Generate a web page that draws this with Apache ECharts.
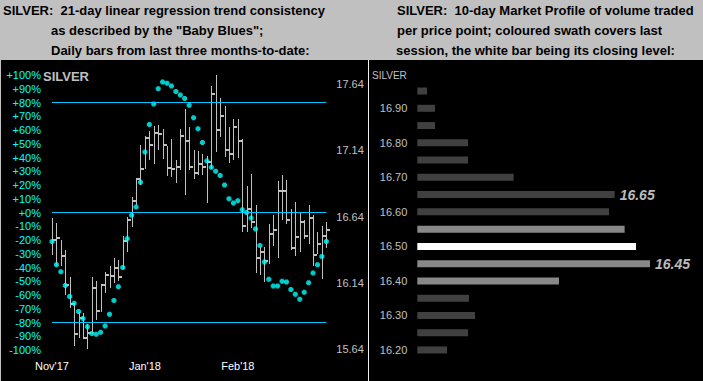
<!DOCTYPE html>
<html><head><meta charset="utf-8">
<script src="https://cdn.jsdelivr.net/npm/echarts@6/dist/echarts.min.js"></script>
<style>html,body{margin:0;padding:0;background:#c0c0c0}#c{width:703px;height:381px}</style>
</head><body><div id="c"></div>
<script>
// ---- Left panel: daily HLC bars (price) and "Baby Blues" (% trend consistency)
const highs = [16.63,16.59,16.465,16.39,16.18,15.99,15.92,15.91,15.825,16.185,16.155,16.125,16.22,16.265,16.325,16.315,16.49,16.64,16.785,16.925,17.18,17.25,17.285,17.325,17.33,17.30,17.17,17.225,17.065,17.30,17.455,17.315,17.14,17.135,17.11,17.095,17.625,17.71,17.535,17.475,17.315,17.375,17.375,17.225,16.87,16.96,16.73,16.41,16.41,16.585,16.65,16.91,16.955,16.915,16.695,16.75,16.67,16.61,16.725,16.65,16.525,16.57,16.60];
const lows = [16.35,16.27,16.27,16.05,15.95,15.665,15.725,15.715,15.64,15.75,15.86,15.92,16.06,16.10,16.135,16.155,16.245,16.37,16.56,16.73,16.875,17.00,17.07,17.035,17.14,17.075,16.945,16.94,16.89,16.99,16.80,16.99,16.92,16.955,16.95,16.745,17.00,17.13,17.24,17.09,17.045,17.07,17.08,16.525,16.52,16.55,16.215,16.195,16.145,16.285,16.42,16.33,16.61,16.58,16.39,16.345,16.375,16.47,16.435,16.27,16.355,16.165,16.405];
const closes = [16.465,16.48,16.345,16.12,15.98,15.755,15.875,15.725,15.76,16.10,15.93,16.12,16.195,16.19,16.25,16.18,16.455,16.615,16.76,16.92,16.995,17.23,17.18,17.27,17.265,17.18,17.005,16.995,17.01,17.25,17.21,17.01,16.965,17.035,17.01,17.055,17.565,17.29,17.395,17.145,17.115,17.315,17.21,16.565,16.70,16.595,16.33,16.37,16.305,16.51,16.54,16.835,16.83,16.61,16.405,16.485,16.595,16.49,16.625,16.35,16.43,16.495,16.54];
const blues = [-21,-38,-43,-53,-61,-66,-72,-77,-83,-88,-88.5,-87,-82.5,-74,-64,-54,-40,-19,-2,4,22,44,64,79,90,95,94,92,88,85.5,83,78,69,61,51,37.5,33,30,27,20,10,7,8.5,2,0,-4,-12,-24,-36,-48.5,-53.5,-53.5,-50,-50.5,-56,-59.5,-63,-58,-51,-44,-38,-32,-21];
const monthLabels = ["Nov'17","Jan'18","Feb'18"];
const monthIdx = [0,21,42];
const priceTicks = [15.64,16.14,16.64,17.14,17.64];
const refLevels = [80,0,-80];

// ---- Right panel: 10-day market profile
const profileLevels = [16.20,16.25,16.30,16.35,16.40,16.45,16.50,16.55,16.60,16.65,16.70,16.75,16.80,16.85,16.90,16.95];
const profileVolume = [12.8,21.8,24.8,22.2,60.9,100,94,89.1,82.4,84.8,41.4,21.8,21.8,7.6,7.6,4.2];
const sessionLow = 16.40, sessionHigh = 16.55, closeLevel = 16.50;
const labelledLevels = [16.65,16.45];

const FONT = '"Liberation Sans", Arial, sans-serif';
const dayIdx = highs.map((_, i) => String(i));
const plus = 'path://M1,0H4V1H5V4H4V5H1V4H0V1H1Z';

function barColor(l){
  if (l === closeLevel) return '#ffffff';
  if (l >= sessionLow && l <= sessionHigh) return '#888888';
  return '#404040';
}
function txt(t, x, y, font, fill){
  return {type:'text', x:x, y:y, silent:true, z:5,
    style:{text:t, font:font, fill:fill, textAlign:'left', textVerticalAlign:'middle'}};
}
const TF = 'bold 13px ' + FONT;

const chart = echarts.init(document.getElementById('c'), null, {renderer:'svg'});
chart.setOption({
  animation:false,
  backgroundColor:'#c0c0c0',
  graphic:[
    {type:'rect', silent:true, z:-10, shape:{x:1,y:60,width:367,height:321}, style:{fill:'#000000'}},
    {type:'rect', silent:true, z:-10, shape:{x:368,y:60,width:1,height:321}, style:{fill:'#f0f0f0'}},
    {type:'rect', silent:true, z:-10, shape:{x:369,y:60,width:334,height:321}, style:{fill:'#000000'}},
    txt('SILVER:\u00a0 21-day linear regression trend consistency', 3, 10.5, TF, '#000'),
    txt('as described by the "Baby Blues";', 51, 30.5, TF, '#000'),
    txt('Daily bars from last three months-to-date:', 51, 50, TF, '#000'),
    txt('SILVER:\u00a0 10-day Market Profile of volume traded', 397, 10.5, TF, '#000'),
    txt('per price point; coloured swath covers last', 397, 30.5, TF, '#000'),
    txt('session, the white bar being its closing level:', 396, 50, TF, '#000'),
    txt('SILVER', 43, 76.5, 'bold 13px ' + FONT, '#c0c0c0'),
    txt('SILVER', 372, 75, '10px ' + FONT, '#c0c0c0')
  ],
  grid:[
    {left:52, top:75, width:274.3, height:275},
    {left:417.3, top:82.4, width:232.7, height:276.2}
  ],
  xAxis:[
    {type:'category', gridIndex:0, data:dayIdx, boundaryGap:false,
     axisLine:{show:false}, axisTick:{show:false}, splitLine:{show:false},
     axisLabel:{interval:(i)=>monthIdx.indexOf(i)>=0,
       formatter:(v,i)=>{const k=monthIdx.indexOf(i); return k>=0?monthLabels[k]:'';},
       color:'#ffffff', fontSize:11, fontFamily:FONT, margin:10}},
    {type:'value', gridIndex:1, min:0, max:100, show:false}
  ],
  yAxis:[
    {type:'value', gridIndex:0, min:-100, max:100, interval:10,
     axisLine:{show:false}, axisTick:{show:false}, splitLine:{show:false},
     axisLabel:{color:'#00ffff', fontSize:11, fontFamily:FONT, margin:11,
       formatter:(v)=>(v>=0?'+':'')+v+'%'}},
    {type:'value', gridIndex:0, position:'right', min:15.6325, max:17.708,
     axisLine:{show:false}, axisTick:{show:false}, splitLine:{show:false},
     axisLabel:{customValues:priceTicks, color:'#c0c0c0', fontSize:11, fontFamily:FONT, margin:10,
       formatter:(v)=>Number(v).toFixed(2)}},
    {type:'category', gridIndex:1, data:profileLevels.map(v=>v.toFixed(2)),
     axisLine:{show:false}, axisTick:{show:false}, splitLine:{show:false},
     axisLabel:{interval:1, color:'#c0c0c0', fontSize:11, fontFamily:FONT, margin:10}}
  ],
  series:[
    {type:'custom', xAxisIndex:0, yAxisIndex:1, silent:true,
     data:highs.map((h,i)=>[i,h,lows[i],closes[i]]),
     encode:{x:0, y:[1,2,3]},
     renderItem:function(params, api){
       const hi = api.coord([api.value(0), api.value(1)]);
       const lo = api.coord([api.value(0), api.value(2)]);
       const cl = api.coord([api.value(0), api.value(3)]);
       const xx = Math.round(hi[0]) + 0.5;
       return {type:'group', children:[
         {type:'line', shape:{x1:xx, y1:Math.round(hi[1]), x2:xx, y2:Math.round(lo[1])},
          style:{stroke:'#c0c0c0', lineWidth:1}},
         {type:'rect', shape:{x:xx-0.5, y:Math.round(cl[1])-1, width:4, height:2},
          style:{fill:'#c0c0c0'}}
       ]};
     }},
    {type:'scatter', xAxisIndex:0, yAxisIndex:0, silent:true,
     data:blues, symbol:plus, symbolSize:5, itemStyle:{color:'#00ffff'},
     markLine:{silent:true, symbol:'none', label:{show:false},
       lineStyle:{color:'#00c8ff', width:1, type:'solid'},
       data:refLevels.map(v=>({yAxis:v}))}},
    {type:'bar', xAxisIndex:1, yAxisIndex:2, silent:true, barWidth:7,
     data:profileVolume.map((v,i)=>({
       value:v,
       itemStyle:{color:barColor(profileLevels[i])},
       label:{show:labelledLevels.indexOf(profileLevels[i])>=0}
     })),
     label:{position:'right', distance:5, color:'#bbbbbb', fontSize:14, fontWeight:'bold',
       fontStyle:'italic', fontFamily:FONT,
       formatter:(p)=>profileLevels[p.dataIndex].toFixed(2)}}
  ]
});
</script></body></html>
